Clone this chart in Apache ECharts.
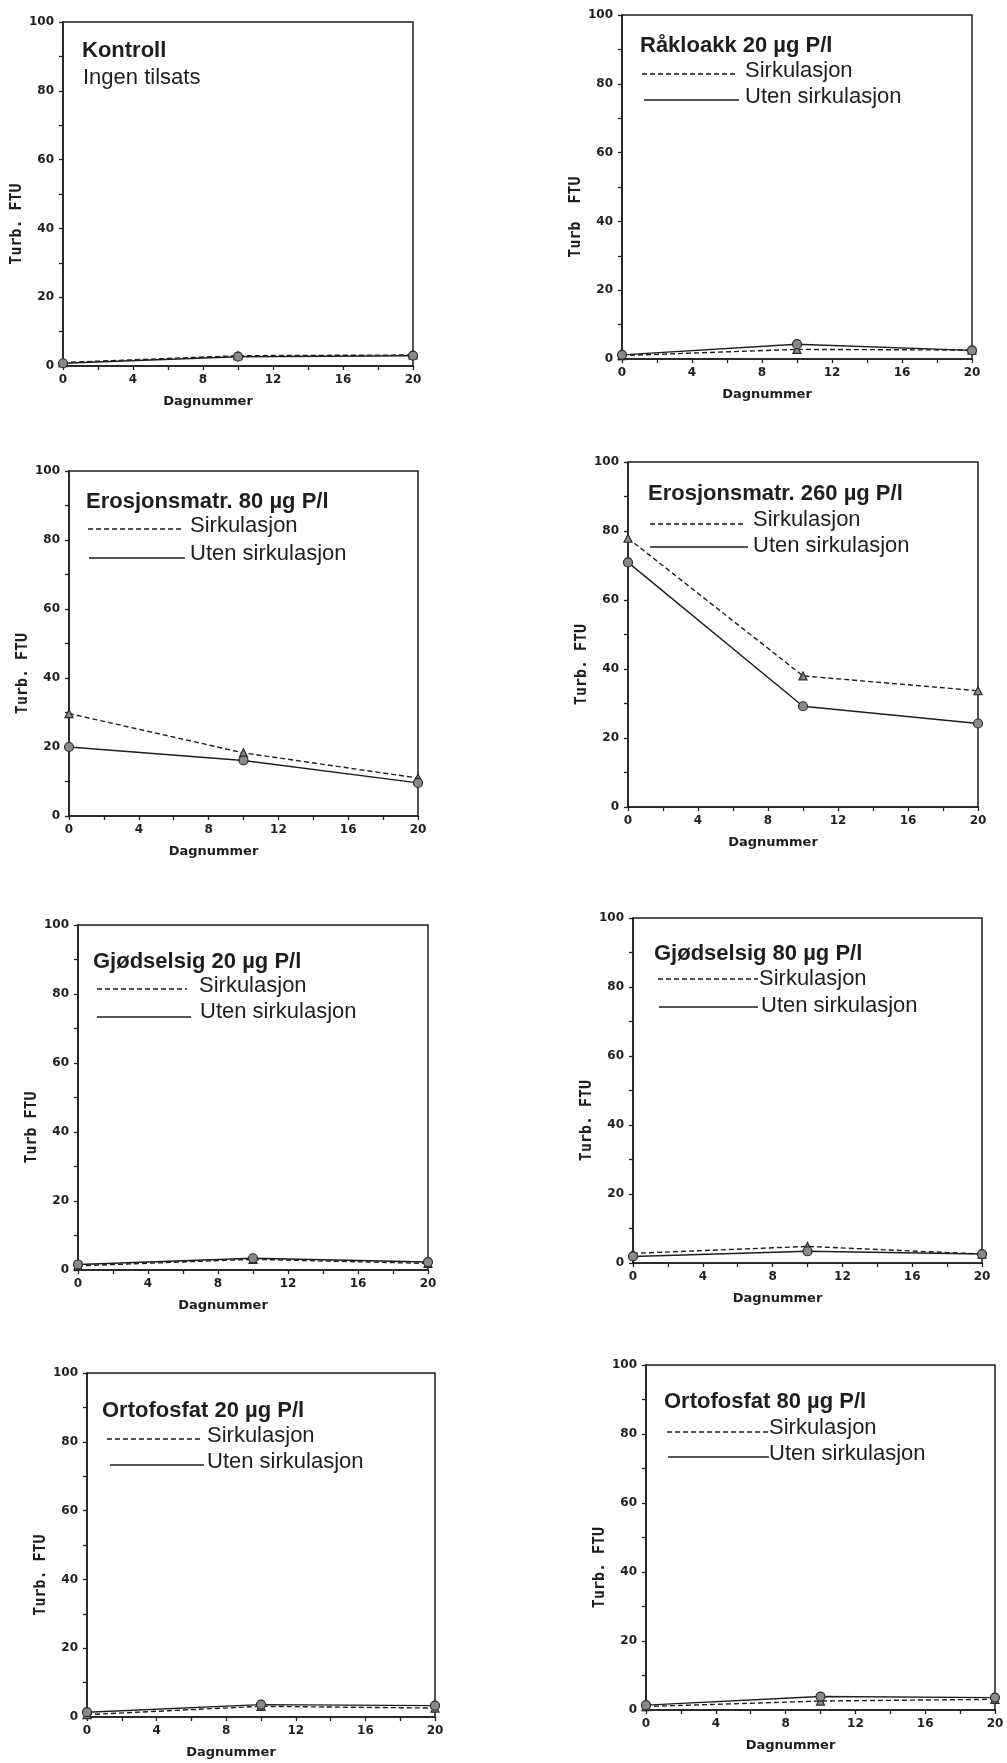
<!DOCTYPE html>
<html>
<head>
<meta charset="utf-8">
<script src="https://cdn.jsdelivr.net/npm/echarts@6/dist/echarts.min.js"></script>
<style>
  html, body { margin: 0; padding: 0; background: #fff; }
  #chart { width: 1007px; height: 1763px; }
</style>
</head>
<body>
<div id="chart"></div>
<script>
// ---- data ----
const days = [0, 10, 20];
const xTickLabels = [0, 4, 8, 12, 16, 20];
const yTickLabels = [0, 20, 40, 60, 80, 100];

const kontrollSirk  = [1.0, 3.0, 3.2];
const kontrollUten  = [0.8, 2.7, 3.0];
const raakloakkSirk = [1.0, 2.8, 2.6];
const raakloakkUten = [1.2, 4.3, 2.5];
const eros80Sirk    = [29.7, 18.3, 11.0];
const eros80Uten    = [20.0, 16.1, 9.6];
const eros260Sirk   = [77.9, 38.0, 33.7];
const eros260Uten   = [70.9, 29.2, 24.2];
const gjods20Sirk   = [1.2, 3.1, 1.9];
const gjods20Uten   = [1.6, 3.4, 2.3];
const gjods80Sirk   = [2.8, 4.8, 2.6];
const gjods80Uten   = [1.9, 3.4, 2.6];
const orto20Sirk    = [0.7, 3.1, 2.6];
const orto20Uten    = [1.4, 3.6, 3.3];
const orto80Sirk    = [1.0, 2.6, 3.1];
const orto80Uten    = [1.4, 3.9, 3.6];

const titles = ['Kontroll', 'Råkloakk 20 µg P/l', 'Erosjonsmatr. 80 µg P/l', 'Erosjonsmatr. 260 µg P/l',
                'Gjødselsig 20 µg P/l', 'Gjødselsig 80 µg P/l', 'Ortofosfat 20 µg P/l', 'Ortofosfat 80 µg P/l'];
const subtitleKontroll = 'Ingen tilsats';
const legendNames = ['Sirkulasjon', 'Uten sirkulasjon'];
const yNames = ['Turb. FTU', 'Turb  FTU', 'Turb. FTU', 'Turb. FTU', 'Turb FTU', 'Turb. FTU', 'Turb. FTU', 'Turb. FTU'];
const xName = 'Dagnummer';

const sirkSeries = [kontrollSirk, raakloakkSirk, eros80Sirk, eros260Sirk, gjods20Sirk, gjods80Sirk, orto20Sirk, orto80Sirk];
const utenSeries = [kontrollUten, raakloakkUten, eros80Uten, eros260Uten, gjods20Uten, gjods80Uten, orto20Uten, orto80Uten];

// ---- layout (pixel positions of each panel) ----
const grids = [
  { left: 63,  top: 22,   width: 350, height: 344 },
  { left: 622, top: 15,   width: 350, height: 344 },
  { left: 69,  top: 471,  width: 349, height: 345 },
  { left: 628, top: 462,  width: 350, height: 345 },
  { left: 78,  top: 925,  width: 350, height: 345 },
  { left: 633, top: 918,  width: 349, height: 345 },
  { left: 87,  top: 1373, width: 348, height: 344 },
  { left: 646, top: 1365, width: 349, height: 345 }
];
// title pos, dashed legend line, text, solid legend line, text
const annot = [
  { t: [82, 52], sub: [83, 79] },
  { t: [640, 47],  d: [642, 735, 74],   dt: [745, 72],    s: [644, 739, 100],  st: [745, 98] },
  { t: [86, 503],  d: [88, 183, 529],   dt: [190, 527],   s: [89, 185, 558],   st: [190, 555] },
  { t: [648, 495], d: [650, 745, 524],  dt: [753, 521],   s: [650, 748, 547],  st: [753, 547] },
  { t: [93, 963],  d: [97, 187, 989],   dt: [199, 987],   s: [97, 191, 1017],  st: [200, 1013] },
  { t: [654, 955], d: [658, 758, 979],  dt: [759, 980],   s: [659, 758, 1007], st: [761, 1007] },
  { t: [102, 1412],d: [107, 203, 1439], dt: [207, 1437],  s: [110, 204, 1465], st: [207, 1463] },
  { t: [664, 1403],d: [667, 768, 1432], dt: [769, 1429],  s: [668, 769, 1457], st: [769, 1455] }
];

const ink = '#1e1e1e';
const titleFont = 'bold 22px "Liberation Sans", Arial, sans-serif';
const textFont = '22px "Liberation Sans", Arial, sans-serif';

const gridOpts = [], xAxes = [], yAxes = [], series = [], graphics = [];

grids.forEach((g, i) => {
  gridOpts.push(Object.assign({ show: true, borderColor: ink, borderWidth: 1.5, backgroundColor: 'transparent' }, g));
  xAxes.push({
    gridIndex: i, type: 'value', min: 0, max: 20, interval: 2,
    axisLine: { show: true, onZero: false, lineStyle: { color: ink, width: 1.5 } },
    axisTick: { show: true, length: 4, lineStyle: { color: ink, width: 1.3 } },
    splitLine: { show: false },
    axisLabel: { margin: 8, color: ink, fontSize: 12, fontWeight: 'bold', fontFamily: '"DejaVu Sans", sans-serif',
      formatter: v => (xTickLabels.indexOf(v) >= 0 ? String(v) : '') },
    name: xName, nameLocation: 'middle', nameGap: 29,
    nameTextStyle: { color: ink, fontSize: 13, fontWeight: 'bold', fontFamily: '"DejaVu Sans", sans-serif', padding: [0, 60, 0, 0] }
  });
  yAxes.push({
    gridIndex: i, type: 'value', min: 0, max: 100, interval: 10,
    axisLine: { show: true, onZero: false, lineStyle: { color: ink, width: 1.5 } },
    axisTick: { show: true, length: 4, lineStyle: { color: ink, width: 1.3 } },
    splitLine: { show: false },
    axisLabel: { margin: 9, color: ink, fontSize: 12, fontWeight: 'bold', fontFamily: '"DejaVu Sans", sans-serif',
      formatter: v => (yTickLabels.indexOf(v) >= 0 ? String(v) : '') },
    name: yNames[i], nameLocation: 'middle', nameRotate: 90, nameGap: 37,
    nameTextStyle: { color: ink, fontSize: 15, fontWeight: 'bold', fontFamily: '"DejaVu Sans Mono", monospace', padding: [0, 60, 0, 0] }
  });
  series.push({
    name: legendNames[0], type: 'line', xAxisIndex: i, yAxisIndex: i,
    data: days.map((d, k) => [d, sirkSeries[i][k]]),
    symbol: 'triangle', symbolSize: 8, showSymbol: true,
    lineStyle: { color: ink, width: 1.4, type: [5, 3] },
    itemStyle: { color: '#8a8a8a', borderColor: '#2a2a2a', borderWidth: 1.2 },
    animation: false, silent: true
  });
  series.push({
    name: legendNames[1], type: 'line', xAxisIndex: i, yAxisIndex: i,
    data: days.map((d, k) => [d, utenSeries[i][k]]),
    symbol: 'circle', symbolSize: 9, showSymbol: true,
    lineStyle: { color: ink, width: 1.4 },
    itemStyle: { color: '#8a8a8a', borderColor: '#2a2a2a', borderWidth: 1.2 },
    animation: false, silent: true
  });

  const a = annot[i];
  graphics.push({ type: 'text', left: a.t[0], top: a.t[1] - 12,
    style: { text: titles[i], font: titleFont, fill: ink } });
  if (a.sub) {
    graphics.push({ type: 'text', left: a.sub[0], top: a.sub[1] - 12,
      style: { text: subtitleKontroll, font: textFont, fill: ink } });
  }
  if (a.d) {
    graphics.push({ type: 'line', shape: { x1: a.d[0], y1: a.d[2], x2: a.d[1], y2: a.d[2] },
      style: { stroke: ink, lineWidth: 1.4, lineDash: [5, 3] } });
    graphics.push({ type: 'text', left: a.dt[0], top: a.dt[1] - 12,
      style: { text: legendNames[0], font: textFont, fill: ink } });
    graphics.push({ type: 'line', shape: { x1: a.s[0], y1: a.s[2], x2: a.s[1], y2: a.s[2] },
      style: { stroke: ink, lineWidth: 1.4 } });
    graphics.push({ type: 'text', left: a.st[0], top: a.st[1] - 12,
      style: { text: legendNames[1], font: textFont, fill: ink } });
  }
});

const chart = echarts.init(document.getElementById('chart'), null, { renderer: 'canvas' });
chart.setOption({
  backgroundColor: '#fff',
  animation: false,
  grid: gridOpts,
  xAxis: xAxes,
  yAxis: yAxes,
  series: series,
  graphic: graphics
});
</script>
</body>
</html>
